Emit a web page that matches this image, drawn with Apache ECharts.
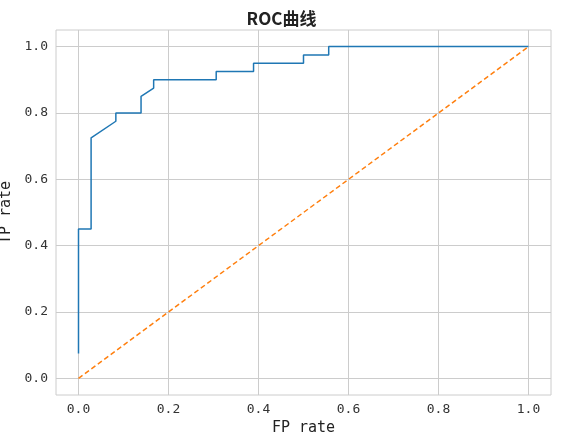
<!DOCTYPE html>
<html lang="zh">
<head>
    <meta charset="UTF-8">
    <title>ROC</title>
    <script src="https://cdn.jsdelivr.net/npm/echarts@6/dist/echarts.min.js"></script>
</head>
<body style="margin:0">
<div id="main" style="width:563px;height:438px;"></div>
<script type="text/javascript">
    // ROC curve points (step curve)
    var fpr = [0, 0, 0.028, 0.028, 0.083, 0.083, 0.139, 0.139, 0.167, 0.167, 0.306, 0.306, 0.389, 0.389, 0.5, 0.5, 0.556, 0.556, 1.0];
    var tpr = [0.075, 0.45, 0.45, 0.725, 0.775, 0.8, 0.8, 0.85, 0.875, 0.9, 0.9, 0.925, 0.925, 0.95, 0.95, 0.975, 0.975, 1.0, 1.0];
    var diagX = [0, 1];
    var diagY = [0, 1];
    var ticks = [0, 0.2, 0.4, 0.6, 0.8, 1.0];

    var font = '"DejaVu Sans Mono", "Noto Sans CJK SC", monospace';
    function pairs(xs, ys) {
        var out = [];
        for (var i = 0; i < xs.length; i++) out.push([xs[i], ys[i]]);
        return out;
    }
    function axis(name, gap, rot) {
        return {
            type: 'value', min: -0.05, max: 1.05,
            name: name, nameLocation: 'middle', nameGap: gap, nameRotate: rot,
            nameTextStyle: {fontSize: 15, color: '#222', fontFamily: font},
            axisLine: {show: false},
            axisTick: {show: false, customValues: ticks},
            axisLabel: {customValues: ticks, color: '#333', fontSize: 13, fontFamily: font,
                formatter: function (v) { return v.toFixed(1); }},
            splitLine: {show: true, lineStyle: {color: '#cccccc', width: 1}}
        };
    }
    var chart = echarts.init(document.getElementById('main'));
    chart.setOption({
        animation: false,
        title: {text: 'ROC曲线', left: 'center', top: 5,
            textStyle: {fontSize: 17, fontWeight: 'bold', color: '#222', fontFamily: '"Noto Sans CJK SC"'}},
        grid: {left: 56, right: 12, top: 30, bottom: 43, containLabel: false, outerBoundsMode: 'none',
            show: true, borderColor: '#cccccc', borderWidth: 1},
        xAxis: axis('FP rate', 24, 0),
        yAxis: axis('TP rate', 40, 90),
        series: [
            {type: 'line', data: pairs(fpr, tpr), symbol: 'none',
                lineStyle: {color: '#1f77b4', width: 1.5}},
            {type: 'line', data: pairs(diagX, diagY), symbol: 'none',
                lineStyle: {color: '#ff7f0e', width: 1.5, type: [5, 3]}}
        ]
    });
</script>
</body>
</html>
